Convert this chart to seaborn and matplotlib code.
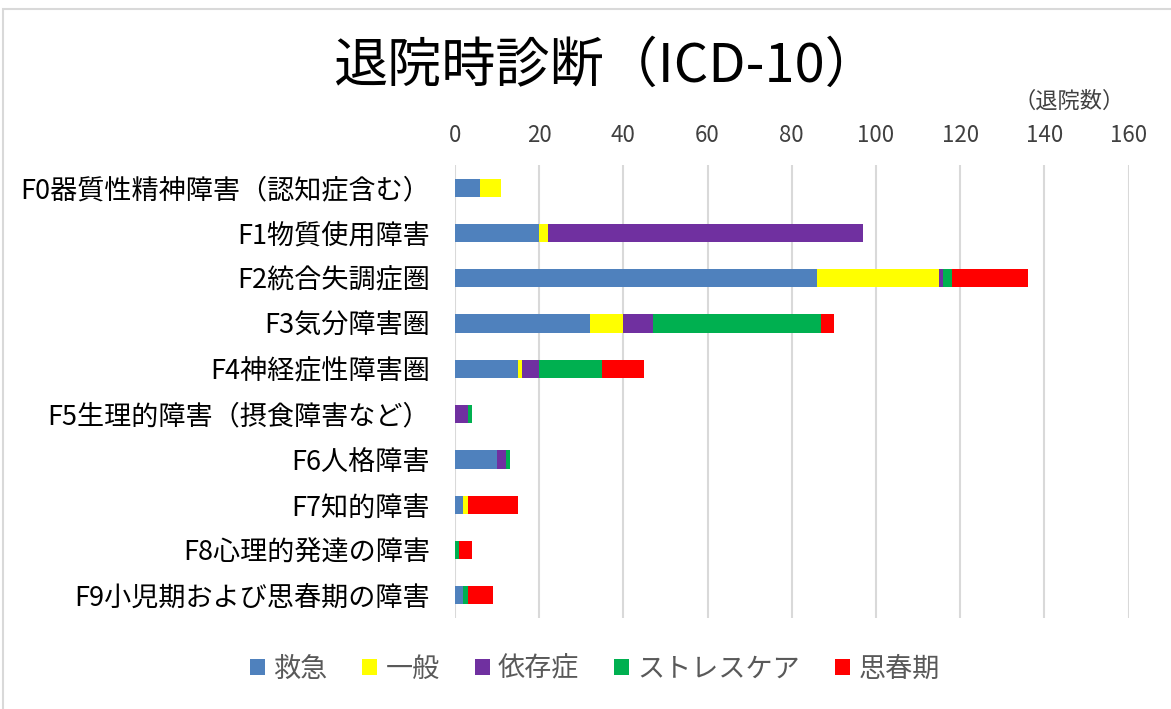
import matplotlib
matplotlib.use("Agg")
import matplotlib.pyplot as plt
from matplotlib.patches import Patch, Rectangle
import seaborn as sns
import pandas as pd
import numpy as np

categories = ["F0器質性精神障害（認知症含む）", "F1物質使用障害", "F2統合失調症圏", "F3気分障害圏",
              "F4神経症性障害圏", "F5生理的障害（摂食障害など）", "F6人格障害", "F7知的障害",
              "F8心理的発達の障害", "F9小児期および思春期の障害"]
series_names = ["救急", "一般", "依存症", "ストレスケア", "思春期"]
kyukyu = [6, 20, 86, 32, 15, 0, 10, 2, 0, 2]
ippan = [5, 2, 29, 8, 1, 0, 0, 1, 0, 0]
izonsho = [0, 75, 1, 7, 4, 3, 2, 0, 0, 0]
stresscare = [0, 0, 2, 40, 15, 1, 1, 0, 1, 1]
shishunki = [0, 0, 18, 3, 10, 0, 0, 12, 3, 6]
colors = ["#4F81BD", "#FFFF00", "#7030A0", "#00B050", "#FF0000"]
xticks = [0, 20, 40, 60, 80, 100, 120, 140, 160]

sns.set_theme(style="white")
plt.rcParams['font.family'] = ['Noto Sans CJK JP', 'DejaVu Sans']

df = pd.DataFrame({"category": categories, "救急": kyukyu, "一般": ippan, "依存症": izonsho,
                   "ストレスケア": stresscare, "思春期": shishunki})
cum = df[series_names].cumsum(axis=1)

fig = plt.figure(figsize=(11.71, 7.09), dpi=100)
ax = fig.add_axes([455/1171, 1-618/709, (1128.6-455)/1171, (618-165)/709])

for name, col in reversed(list(zip(series_names, colors))):
    sns.barplot(x=cum[name], y=df["category"], color=col, orient="h", width=0.4,
                ax=ax, saturation=1, edgecolor="none", linewidth=0)

ax.set_xlim(0, 160)
ax.set_xticks(xticks)
ax.xaxis.tick_top()
ax.tick_params(axis="x", length=0, pad=13, labelsize=16, labelcolor="#404040")
ax.tick_params(axis="y", length=0, pad=18, labelsize=19.5, labelcolor="#000000")
ax.set_xlabel("")
ax.set_ylabel("")
ax.grid(axis="x", color="#d9d9d9", linewidth=1.5)
ax.set_axisbelow(True)
for s in ax.spines.values():
    s.set_visible(False)

fig.text(0.517, 0.907, "退院時診断（ICD-10）", ha="center", va="center", fontsize=39, color="#000000")
fig.text(1125/1171, 1-101/709, "（退院数）", ha="right", va="center", fontsize=16, color="#404040")

handles = [Patch(facecolor=c, edgecolor="none") for c in colors]
fig.legend(handles, series_names, loc="center", bbox_to_anchor=(0.508, 1-669/709), ncol=5,
           frameon=False, fontsize=19.5, labelcolor="#595959", handlelength=0.55, handleheight=0.55,
           handletextpad=0.3, columnspacing=1.3)

fig.add_artist(Rectangle((3/1171, -0.05), 1.1, 1-9/709+0.05, transform=fig.transFigure,
                         fill=False, edgecolor="#d9d9d9", linewidth=1.5))

fig.savefig("out.png", dpi=100)
